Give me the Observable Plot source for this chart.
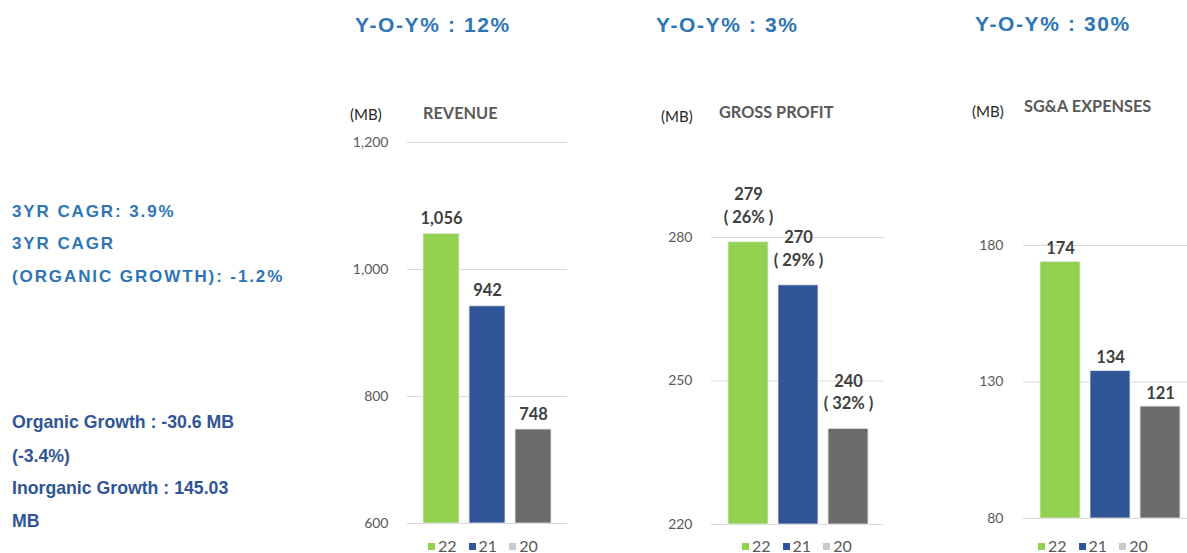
<!DOCTYPE html>
<html>
<head>
<meta charset="utf-8">
<script src="https://cdn.jsdelivr.net/npm/d3@7"></script>
<script src="https://cdn.jsdelivr.net/npm/@observablehq/plot@0.6"></script>
<style>
  html, body { margin: 0; padding: 0; background: #fff; }
  body { width: 1187px; height: 553px; overflow: hidden; position: relative; font-family: Lato, "Open Sans", sans-serif; }
  .t { position: absolute; white-space: nowrap; line-height: 1; transform: translateY(-50%); }
  .yoy { font-family: "Liberation Sans", Arial, sans-serif; font-weight: bold; font-size: 21px; letter-spacing: 1.6px; color: #2E75B6; }
  .cagr { font-family: "Liberation Sans", Arial, sans-serif; font-weight: bold; font-size: 17px; letter-spacing: 1.9px; color: #2E75B6; }
  .growth { font-family: "Liberation Sans", Arial, sans-serif; font-weight: bold; font-size: 17.7px; color: #2F5597; }
  .unit { font-family: Lato, sans-serif; font-size: 15px; color: #262626; }
  .ctitle { font-family: Lato, sans-serif; font-weight: bold; font-size: 16.3px; color: #595959; }
  .chart { position: absolute; }
  .chart svg { max-width: none !important; }
  .legend { position: absolute; display: flex; align-items: center; transform: translateY(-50%); font-family: Lato, sans-serif; font-size: 16px; color: #595959; line-height: 1; }
  .legend .sw { width: 7px; height: 7px; margin-right: 3px; }
  .legend .lb { margin-right: 12px; }
</style>
</head>
<body>
<script>
// ---------------- data ----------------
const years = ["22", "21", "20"];
const barColors = ["#92D050", "#2F5597", "#6B6B6B"];
const legendColors = ["#92D050", "#2F5597", "#C9C9C9"];

const revenue = [1056, 942, 748];
const grossProfit = [279, 270, 240];
const grossMargin = ["26%", "29%", "32%"];
const sgaExpenses = [174, 134, 121];

const revenueTicks = [600, 800, 1000, 1200];
const grossTicks = [220, 250, 280];
const sgaTicks = [80, 130, 180];

const yoyValues = ["12%", "3%", "30%"];
const chartTitles = ["REVENUE", "GROSS PROFIT", "SG&A EXPENSES"];
const unitLabel = "(MB)";
const cagrLines = ["3YR CAGR: 3.9%", "3YR CAGR", "(ORGANIC GROWTH): -1.2%"];
const growthLines = ["Organic Growth : -30.6 MB", "(-3.4%)", "Inorganic Growth : 145.03", "MB"];

// ---------------- helpers ----------------
function place(text, cls, x, cy) {
  const d = document.createElement("div");
  d.className = "t " + cls;
  d.textContent = text;
  d.style.left = x + "px";
  d.style.top = cy + "px";
  document.body.appendChild(d);
  return d;
}

function legend(x, cy) {
  const d = document.createElement("div");
  d.className = "legend";
  d.style.left = x + "px";
  d.style.top = cy + "px";
  years.forEach((y, i) => {
    const s = document.createElement("span");
    s.className = "sw";
    s.style.background = legendColors[i];
    const l = document.createElement("span");
    l.className = "lb";
    l.textContent = y;
    d.appendChild(s);
    d.appendChild(l);
  });
  document.body.appendChild(d);
}

function barChart(cfg) {
  const data = years.map((y, i) => ({ year: y, value: cfg.values[i], label: cfg.labels[i] }));
  const base = cfg.ticks[0];
  const svg = Plot.plot({
    width: cfg.width,
    height: cfg.height,
    marginLeft: cfg.marginLeft,
    marginRight: 0,
    marginTop: cfg.marginTop,
    marginBottom: cfg.marginBottom,
    style: { fontFamily: "Lato, sans-serif", background: "transparent", overflow: "visible", maxWidth: "none" },
    x: { domain: years, paddingInner: 0.21, paddingOuter: 0.33, axis: null },
    y: { domain: [cfg.ticks[0], cfg.ticks[cfg.ticks.length - 1]], axis: null },
    color: { domain: years, range: barColors },
    marks: [
      Plot.ruleY(cfg.ticks, { y: d => d, stroke: "#D9D9D9", strokeWidth: 1 }),
      Plot.barY(data, { x: "year", y1: () => base, y2: "value", fill: "year", stroke: "#E8E8E8", strokeWidth: 0.8 }),
      Plot.text(data, {
        x: "year", y: "value", text: "label", dy: cfg.labelDy,
        lineAnchor: "middle", lineHeight: 1.35,
        fontWeight: "bold", fontSize: 16.5, fill: "#404040"
      }),
      Plot.axisY({
        ticks: cfg.ticks, tickSize: 0, tickPadding: cfg.tickPadding,
        tickFormat: d3.format(","), fontSize: 14, fill: "#595959", label: null
      })
    ]
  });
  const wrap = document.createElement("div");
  wrap.className = "chart";
  wrap.style.left = cfg.left + "px";
  wrap.style.top = cfg.top + "px";
  wrap.style.width = cfg.width + "px";
  wrap.style.height = cfg.height + "px";
  wrap.appendChild(svg);
  document.body.appendChild(wrap);
}

// ---------------- left text ----------------
[210.5, 243, 276].forEach((cy, i) => place(cagrLines[i], "cagr", 12, cy));
[423, 456.5, 488.5, 521.5].forEach((cy, i) => place(growthLines[i], "growth", 12, cy));

// ---------------- YoY headers ----------------
place("Y-O-Y% : " + yoyValues[0], "yoy", 355, 24);
place("Y-O-Y% : " + yoyValues[1], "yoy", 656, 24);
place("Y-O-Y% : " + yoyValues[2], "yoy", 975, 23);

// ---------------- chart titles ----------------
place(unitLabel, "unit", 350, 114);
place(chartTitles[0], "ctitle", 423, 113);
place(unitLabel, "unit", 661, 116);
place(chartTitles[1], "ctitle", 719, 112);
place(unitLabel, "unit", 972, 111);
place(chartTitles[2], "ctitle", 1024, 106);

// ---------------- charts ----------------
barChart({
  values: revenue, labels: revenue.map(d3.format(",")), ticks: revenueTicks,
  left: 330, top: 120, width: 237, height: 413, marginLeft: 77, marginTop: 22, marginBottom: 10,
  tickPadding: 19, labelDy: -17
});
barChart({
  values: grossProfit, labels: grossProfit.map((v, i) => v + "\n( " + grossMargin[i] + " )"), ticks: grossTicks,
  left: 620, top: 120, width: 264, height: 414, marginLeft: 91, marginTop: 117, marginBottom: 10,
  tickPadding: 19, labelDy: -38
});
barChart({
  values: sgaExpenses, labels: sgaExpenses.map(String), ticks: sgaTicks,
  left: 930, top: 120, width: 266, height: 408, marginLeft: 93, marginTop: 125, marginBottom: 10,
  tickPadding: 20, labelDy: -15
});

// ---------------- legends ----------------
legend(428, 546);
legend(742, 546);
legend(1038, 546);
</script>
</body>
</html>
